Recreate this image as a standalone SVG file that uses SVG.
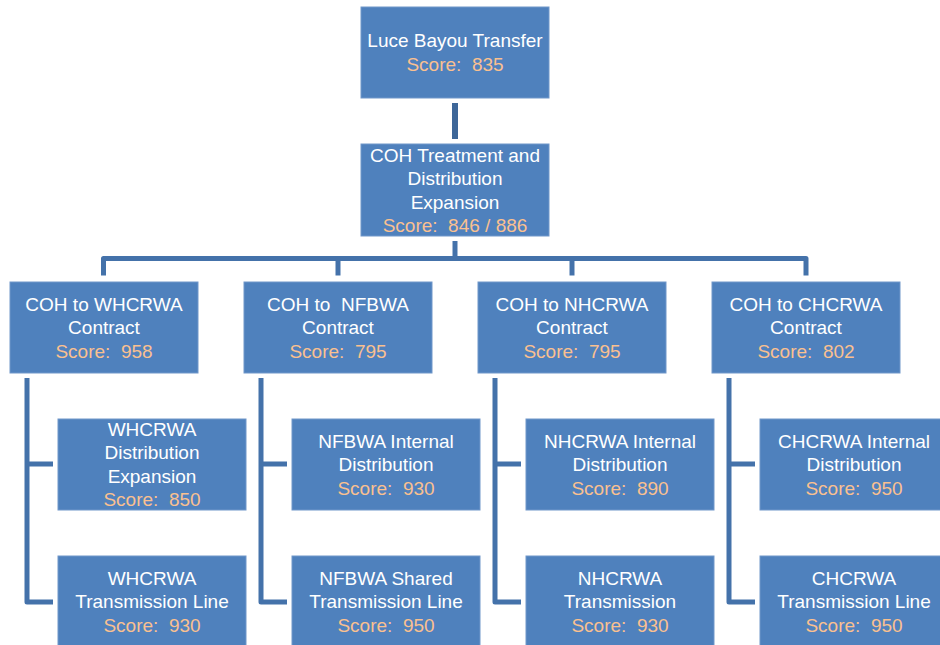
<svg xmlns="http://www.w3.org/2000/svg" width="940" height="645" viewBox="0 0 940 645">
<style>
.box{fill:#4F81BD;stroke:#7097CA;stroke-width:1}
text{font-family:"Liberation Sans",Arial,sans-serif;font-size:19px;text-anchor:middle;fill:#FFFFFF;white-space:pre}
.s{fill:#FAC090}
.c{fill:none;stroke:#4472AA;stroke-width:5;stroke-linejoin:round}
.c0{fill:none;stroke:#3E6799;stroke-width:6}
</style>
<rect width="940" height="645" fill="#FFFFFF"/>
<g id="connectors">
<line class="c0" x1="455" y1="103" x2="455" y2="139"/>
<path class="c" d="M455,241V258.5"/>
<path class="c" d="M103.5,275.5V258.5H806V275.5"/>
<path class="c" d="M338,258.5V275.5"/>
<path class="c" d="M572,258.5V275.5"/>
<path class="c" d="M27,378V602H53M27,464H53"/>
<path class="c" d="M261,378V602H287M261,464H287"/>
<path class="c" d="M495,378V602H521M495,464H521"/>
<path class="c" d="M729,378V602H755M729,464H755"/>
</g>
<g id="luce">
<rect class="box" x="361" y="7" width="188" height="91"/>
<text x="455" y="47">Luce Bayou Transfer</text>
<text class="s" x="455" y="70.5" xml:space="preserve">Score:  835</text>
</g>
<g id="coh">
<rect class="box" x="361" y="144" width="188" height="92"/>
<text x="455" y="161.5">COH Treatment and</text>
<text x="455" y="185">Distribution</text>
<text x="455" y="208.5">Expansion</text>
<text class="s" x="455" y="232" xml:space="preserve">Score:  846 / 886</text>
</g>
<g id="whcrwa-contract">
<rect class="box" x="10" y="282" width="188" height="91"/>
<text x="104" y="310.5">COH to WHCRWA</text>
<text x="104" y="334">Contract</text>
<text class="s" x="104" y="357.5" xml:space="preserve">Score:  958</text>
</g>
<g id="nfbwa-contract">
<rect class="box" x="244" y="282" width="188" height="91"/>
<text x="338" y="310.5" xml:space="preserve">COH to  NFBWA</text>
<text x="338" y="334">Contract</text>
<text class="s" x="338" y="357.5" xml:space="preserve">Score:  795</text>
</g>
<g id="nhcrwa-contract">
<rect class="box" x="478" y="282" width="188" height="91"/>
<text x="572" y="310.5">COH to NHCRWA</text>
<text x="572" y="334">Contract</text>
<text class="s" x="572" y="357.5" xml:space="preserve">Score:  795</text>
</g>
<g id="chcrwa-contract">
<rect class="box" x="712" y="282" width="188" height="91"/>
<text x="806" y="310.5">COH to CHCRWA</text>
<text x="806" y="334">Contract</text>
<text class="s" x="806" y="357.5" xml:space="preserve">Score:  802</text>
</g>
<g id="whcrwa-dist">
<rect class="box" x="58" y="419" width="188" height="91"/>
<text x="152" y="435.5">WHCRWA</text>
<text x="152" y="459">Distribution</text>
<text x="152" y="482.5">Expansion</text>
<text class="s" x="152" y="506" xml:space="preserve">Score:  850</text>
</g>
<g id="whcrwa-trans">
<rect class="box" x="58" y="556" width="188" height="95"/>
<text x="152" y="584.5">WHCRWA</text>
<text x="152" y="608">Transmission Line</text>
<text class="s" x="152" y="631.5" xml:space="preserve">Score:  930</text>
</g>
<g id="nfbwa-dist">
<rect class="box" x="292" y="419" width="188" height="91"/>
<text x="386" y="447.5">NFBWA Internal</text>
<text x="386" y="471">Distribution</text>
<text class="s" x="386" y="494.5" xml:space="preserve">Score:  930</text>
</g>
<g id="nfbwa-trans">
<rect class="box" x="292" y="556" width="188" height="95"/>
<text x="386" y="584.5">NFBWA Shared</text>
<text x="386" y="608">Transmission Line</text>
<text class="s" x="386" y="631.5" xml:space="preserve">Score:  950</text>
</g>
<g id="nhcrwa-dist">
<rect class="box" x="526" y="419" width="188" height="91"/>
<text x="620" y="447.5">NHCRWA Internal</text>
<text x="620" y="471">Distribution</text>
<text class="s" x="620" y="494.5" xml:space="preserve">Score:  890</text>
</g>
<g id="nhcrwa-trans">
<rect class="box" x="526" y="556" width="188" height="95"/>
<text x="620" y="584.5">NHCRWA</text>
<text x="620" y="608">Transmission</text>
<text class="s" x="620" y="631.5" xml:space="preserve">Score:  930</text>
</g>
<g id="chcrwa-dist">
<rect class="box" x="760" y="419" width="188" height="91"/>
<text x="854" y="447.5">CHCRWA Internal</text>
<text x="854" y="471">Distribution</text>
<text class="s" x="854" y="494.5" xml:space="preserve">Score:  950</text>
</g>
<g id="chcrwa-trans">
<rect class="box" x="760" y="556" width="188" height="95"/>
<text x="854" y="584.5">CHCRWA</text>
<text x="854" y="608">Transmission Line</text>
<text class="s" x="854" y="631.5" xml:space="preserve">Score:  950</text>
</g>
</svg>
